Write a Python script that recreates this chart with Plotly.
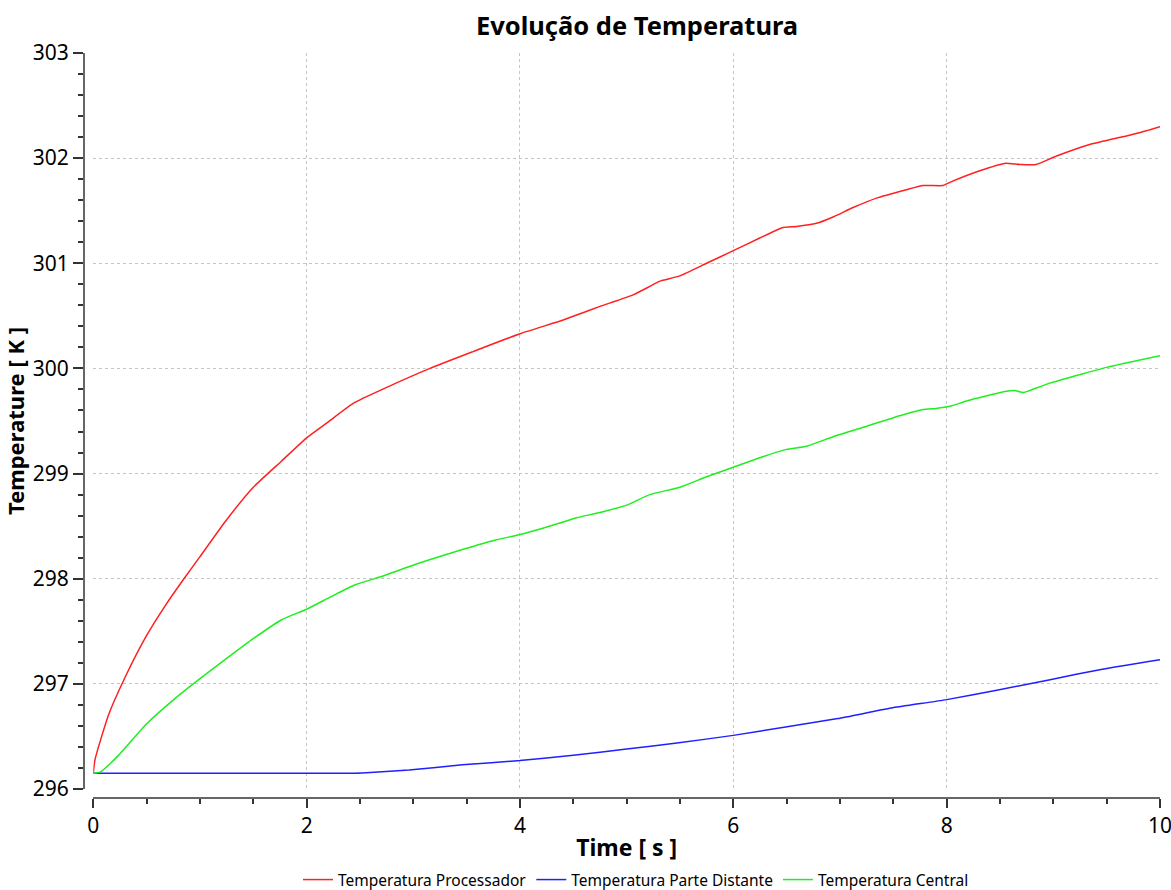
import plotly.graph_objects as go

# ---- data ----
t_proc = [0, 0.016, 0.141, 0.297, 0.5, 0.672, 0.843, 1.0, 1.234, 1.5, 1.766, 2.0, 2.2, 2.44, 2.73,
          3.156, 3.56, 4.0, 4.405, 4.59, 4.75, 5.06, 5.217, 5.311, 5.498, 5.749, 6.0, 6.248, 6.467,
          6.592, 6.78, 6.935, 7.123, 7.342, 7.623, 7.779, 7.966, 8.03, 8.31, 8.545, 8.686, 8.84,
          9.03, 9.34, 9.59, 9.685, 9.87, 10.0]
T_proc = [296.15, 296.28, 296.70, 297.06, 297.46, 297.74, 297.99, 298.21, 298.54, 298.87, 299.12,
          299.34, 299.49, 299.67, 299.81, 300.0, 300.16, 300.33, 300.46, 300.53, 300.59, 300.70,
          300.78, 300.83, 300.88, 301.0, 301.12, 301.24, 301.34, 301.35, 301.38, 301.44, 301.53,
          301.62, 301.70, 301.74, 301.74, 301.77, 301.88, 301.95, 301.94, 301.94, 302.02, 302.13,
          302.19, 302.21, 302.26, 302.30]

t_dist = [0, 1.0, 2.0, 2.41, 2.52, 2.96, 3.46, 4.0, 4.5, 5.0, 5.49, 6.0, 6.49, 6.98, 7.48, 8.0,
          8.47, 8.97, 9.46, 10.0]
T_dist = [296.15, 296.15, 296.15, 296.15, 296.152, 296.18, 296.23, 296.27, 296.32, 296.38, 296.44,
          296.51, 296.59, 296.67, 296.77, 296.85, 296.94, 297.04, 297.14, 297.23]

t_cent = [0, 0.063, 0.237, 0.5, 0.765, 1.0, 1.234, 1.5, 1.766, 2.0, 2.23, 2.45, 2.73, 3.03, 3.34,
          3.78, 4.0, 4.374, 4.53, 4.75, 5.0, 5.217, 5.498, 5.749, 6.0, 6.248, 6.498, 6.686, 6.935,
          7.25, 7.56, 7.78, 7.90, 8.03, 8.186, 8.545, 8.64, 8.716, 8.78, 8.966, 9.28, 9.50, 10.0]
T_cent = [296.15, 296.16, 296.32, 296.62, 296.86, 297.05, 297.23, 297.43, 297.61, 297.71, 297.83,
          297.94, 298.03, 298.14, 298.24, 298.37, 298.42, 298.53, 298.58, 298.63, 298.70, 298.80,
          298.87, 298.97, 299.06, 299.15, 299.23, 299.26, 299.35, 299.45, 299.55, 299.61, 299.62,
          299.64, 299.69, 299.78, 299.79, 299.77, 299.79, 299.86, 299.95, 300.01, 300.12]

series_names = ["Temperatura Processador", "Temperatura Parte Distante", "Temperatura Central"]
series_colors = ["#ff2020", "#2020ff", "#20ee20"]

x_ticks = [0, 2, 4, 6, 8, 10]
y_ticks = [296, 297, 298, 299, 300, 301, 302, 303]

FONT = "Noto Sans"

fig = go.Figure()
for (tx, ty), name, col in zip([(t_proc, T_proc), (t_dist, T_dist), (t_cent, T_cent)],
                               series_names, series_colors):
    fig.add_trace(go.Scatter(x=tx, y=ty, mode="lines", name=name,
                             line=dict(color=col, width=1.5, shape="spline", smoothing=0.5)))

W, H = 1171, 890
ml, mr, mt, mb = 84, 11, 53, 92
pw, ph = W - ml - mr, H - mt - mb

fig.update_layout(
    width=W, height=H,
    margin=dict(l=ml, r=mr, t=mt, b=mb, autoexpand=False),
    plot_bgcolor="white", paper_bgcolor="white",
    font=dict(family=FONT, color="black"),
    title=dict(text="<b>Evolução de Temperatura</b>", x=637 / W, xref="container",
               y=1 - 26 / H, yref="container", xanchor="center", yanchor="middle",
               font=dict(size=25.5, family=FONT, color="black")),
    legend=dict(orientation="h", x=636 / W, xref="container", xanchor="center",
                y=10 / H, yref="container", yanchor="middle",
                font=dict(size=15.5, family=FONT, color="black"),
                itemwidth=30, tracegroupgap=0),
    showlegend=True,
)

fig.update_xaxes(
    range=[0, 10], domain=[9.3 / pw, 1], anchor="free", position=0, automargin=False,
    tickvals=x_ticks, ticktext=[str(v) for v in x_ticks], ticklabeloverflow="allow",
    ticks="outside", ticklen=9, tickwidth=1.5, tickcolor="#333333",
    minor=dict(dtick=0.5, ticks="outside", ticklen=5, tickwidth=1.5, tickcolor="#333333",
               showgrid=False),
    showline=True, linecolor="#666666", linewidth=2,
    showgrid=True, gridcolor="#c4c4c4", griddash="dot", gridwidth=1,
    zeroline=False,
    tickfont=dict(size=21, family=FONT, color="black"),
    title=dict(text="<b>Time [ s ]</b>", font=dict(size=23, family=FONT, color="black"), standoff=6),
)
fig.update_yaxes(
    range=[296, 303], domain=[9 / ph, 1], anchor="free", position=0, automargin=False,
    tickvals=y_ticks, ticktext=[str(v) for v in y_ticks], ticklabeloverflow="allow",
    ticks="outside", ticklen=10, tickwidth=1.5, tickcolor="#333333",
    minor=dict(dtick=0.2, ticks="outside", ticklen=5, tickwidth=1.5, tickcolor="#333333",
               showgrid=False),
    showline=True, linecolor="#666666", linewidth=2,
    showgrid=True, gridcolor="#c4c4c4", griddash="dot", gridwidth=1,
    zeroline=False,
    tickfont=dict(size=21, family=FONT, color="black"),
    title=dict(text="<b>Temperature [ K ]</b>", font=dict(size=22, family=FONT, color="black"), standoff=4),
)

fig.write_html("out.html")
